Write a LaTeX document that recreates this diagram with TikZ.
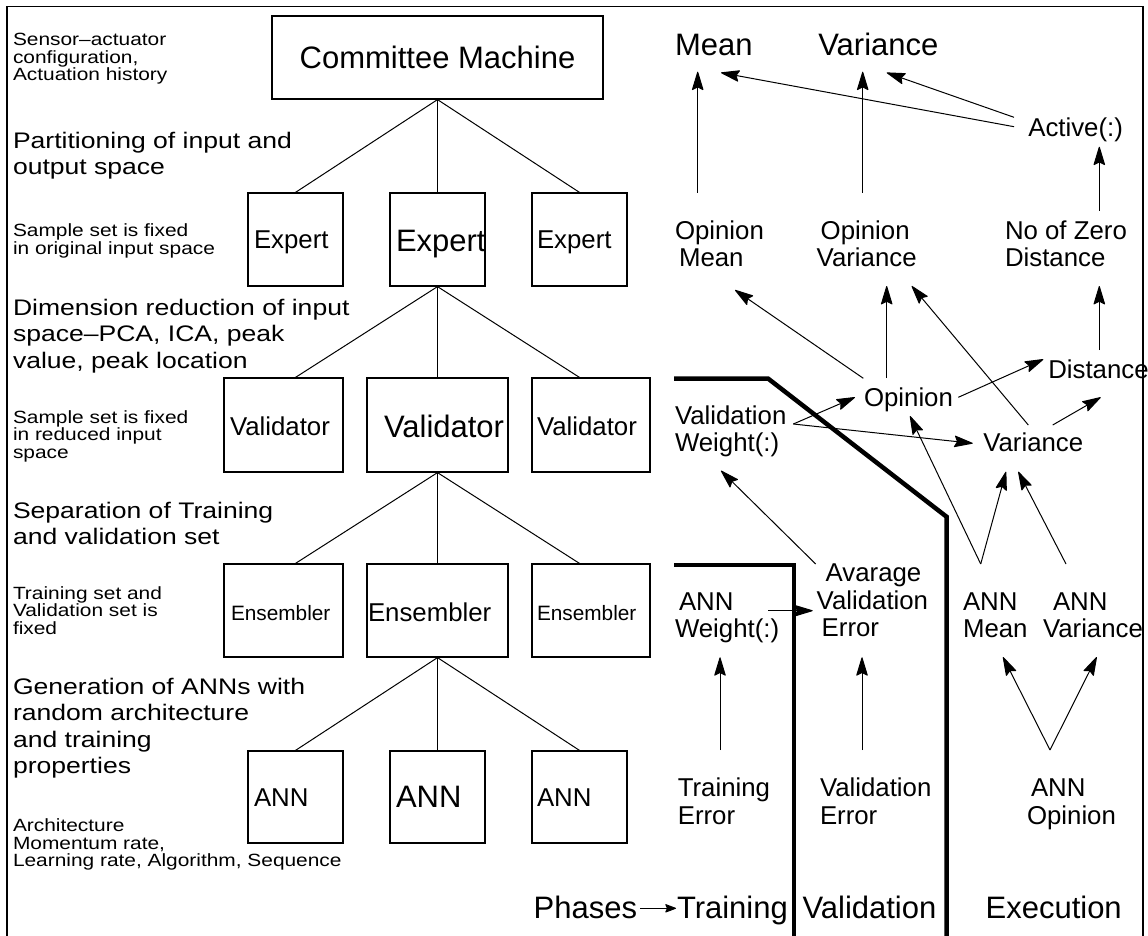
\documentclass[tikz,border=0pt]{standalone}
\usepackage{fontspec}
\setmainfont{Liberation Sans}
\newfontfamily\wideface{Liberation Sans}[FakeStretch=1.18]
\usetikzlibrary{arrows.meta}

% text sizes (1pt = one unit of the drawing)
\newcommand\bigtext{\fontsize{31}{31}\selectfont}
\newcommand\midtext{\fontsize{25.8}{27.5}\selectfont}
\newcommand\headtext{\wideface\fontsize{22.5}{26.5}\selectfont}
\newcommand\notetext{\wideface\fontsize{17.7}{17.6}\selectfont}
% left-aligned stack of lines, baseline on the first line
\newcommand\rows[1]{\vtop{\lineskiplimit=-50pt\halign{##\hfil\cr#1\crcr}}}

\begin{document}
\begin{tikzpicture}[x=1pt, y=-1pt, line join=miter,
  box/.style={draw, line width=1.2pt, inner sep=0pt},
  lbl/.style={anchor=base west, inner sep=0pt, outer sep=0pt},
  tree/.style={line width=1pt},
  arr/.style={line width=1pt, -{Stealth[length=20pt,width=12pt,inset=3pt,round]}},
  smallarr/.style={line width=1pt, -{Stealth[length=12pt,width=9pt,inset=2pt,round]}},
  phaseline/.style={line width=4.5pt}]
\useasboundingbox (0,0) rectangle (1148,935);

% outer frame
\draw[line width=1.2pt] (7,936) -- (7,6.5) -- (1143,6.5) -- (1143,936);

% ---------- hierarchy ----------
\node[box, minimum width=331pt, minimum height=83pt, font=\bigtext] (cm) at (437.5,57.5) {Committee Machine};

\node[box, minimum width=95pt, minimum height=93pt] (e1) at (295.5,239.5) {};
\node[box, minimum width=95pt, minimum height=93pt] (e2) at (437.5,239.5) {};
\node[box, minimum width=95pt, minimum height=93pt] (e3) at (579.5,239.5) {};

\node[box, minimum width=119pt, minimum height=94pt] (v1) at (283.5,425) {};
\node[box, minimum width=141pt, minimum height=94pt] (v2) at (437.5,425) {};
\node[box, minimum width=118pt, minimum height=94pt] (v3) at (591,425) {};

\node[box, minimum width=119pt, minimum height=93pt] (n1) at (283.5,610.5) {};
\node[box, minimum width=141pt, minimum height=93pt] (n2) at (437.5,610.5) {};
\node[box, minimum width=118pt, minimum height=93pt] (n3) at (591,610.5) {};

\node[box, minimum width=95pt, minimum height=92pt] (a1) at (295.5,797) {};
\node[box, minimum width=95pt, minimum height=92pt] (a2) at (437.5,797) {};
\node[box, minimum width=95pt, minimum height=92pt] (a3) at (579.5,797) {};

\node[lbl, font=\midtext] (e1t) at (254,248) {Expert};
\node[lbl, font=\bigtext] (e2t) at (396,251) {Expert};
\node[lbl, font=\midtext] (e3t) at (537,248) {Expert};
\node[lbl, font=\midtext] (v1t) at (230,435) {Validator};
\node[lbl, font=\bigtext] (v2t) at (384,437) {Validator};
\node[lbl, font=\midtext] (v3t) at (537,435) {Validator};
\node[lbl, font=\fontsize{20.8}{20.8}\selectfont] (n1t) at (231,620) {Ensembler};
\node[lbl, font=\midtext] (n2t) at (368,621) {Ensembler};
\node[lbl, font=\fontsize{20.8}{20.8}\selectfont] (n3t) at (537,620) {Ensembler};
\node[lbl, font=\midtext] (a1t) at (254,806) {ANN};
\node[lbl, font=\bigtext] (a2t) at (396,807) {ANN};
\node[lbl, font=\midtext] (a3t) at (537,806) {ANN};

\draw[tree] (cm.south) -- (e1.north);
\draw[tree] (cm.south) -- (e2.north);
\draw[tree] (cm.south) -- (e3.north);
\draw[tree] (e2.south) -- (v1.north -| e1.north);
\draw[tree] (e2.south) -- (v2.north);
\draw[tree] (e2.south) -- (v3.north -| e3.north);
\draw[tree] (v2.south) -- (n1.north -| e1.north);
\draw[tree] (v2.south) -- (n2.north);
\draw[tree] (v2.south) -- (n3.north -| e3.north);
\draw[tree] (n2.south) -- (a1.north);
\draw[tree] (n2.south) -- (a2.north);
\draw[tree] (n2.south) -- (a3.north);

% ---------- left-hand notes ----------
\node[lbl, font=\notetext] (s0) at (13,45.5) {\rows{Sensor–actuator\cr configuration,\cr Actuation history}};
\node[lbl, font=\headtext] (h1) at (13,148) {\rows{Partitioning of input and\cr output space}};
\node[lbl, font=\notetext] (s1) at (13,236.7) {\rows{Sample set is fixed\cr in original input space}};
\node[lbl, font=\headtext] (h2) at (13,315) {\rows{Dimension reduction of input\cr space–PCA, ICA, peak\cr value, peak location}};
\node[lbl, font=\notetext] (s2) at (13,423.3) {\rows{Sample set is fixed\cr in reduced input\cr space}};
\node[lbl, font=\headtext] (h3) at (13,518.3) {\rows{Separation of Training\cr and validation set}};
\node[lbl, font=\notetext] (s3) at (13,599.3) {\rows{Training set and\cr Validation set is\cr fixed}};
\node[lbl, font=\headtext] (h4) at (13,694.3) {\rows{Generation of ANNs with\cr random architecture\cr and training\cr properties}};
\node[lbl, font=\notetext] (s4) at (13,831.7) {\rows{Architecture\cr Momentum rate,\cr Learning rate, Algorithm, Sequence}};

% ---------- phase separators ----------
\draw[phaseline] (674,378.5) -- (768,378.5) -- (946.5,516.7) -- (946.5,937);
\draw[phaseline] (674,565) -- (794,565) -- (794,937);

% ---------- data flow ----------
\node[lbl, font=\bigtext] (mean) at (675,55) {Mean};
\node[lbl, font=\bigtext] (var) at (818.3,55) {Variance};
\node[lbl, font=\midtext] (act) at (1028.3,136.7) {Active(:)};
\node[lbl, font=\midtext] (om) at (675,239.3) {\rows{Opinion\cr\hskip4pt Mean}};
\node[lbl, font=\midtext] (ov) at (816.7,239.3) {\rows{\hskip4pt Opinion\cr Variance}};
\node[lbl, font=\midtext] (nz) at (1005,239.3) {\rows{No of Zero\cr Distance}};
\node[lbl, font=\midtext] (op) at (864,406.7) {Opinion};
\node[lbl, font=\midtext] (dist) at (1048.3,378.3) {Distance};
\node[lbl, font=\midtext] (vr) at (983.3,451.7) {Variance};
\node[lbl, font=\midtext] (vw) at (675,424) {\rows{Validation\cr Weight(:)}};
\node[lbl, font=\midtext] (avg) at (816.7,581.7) {\rows{\hskip9pt Avarage\cr Validation\cr\hskip5pt Error}};
\node[lbl, font=\midtext] (aw) at (675,610) {\rows{\hskip4pt ANN\cr Weight(:)}};
\node[lbl, font=\midtext] (amn) at (963,610) {\rows{ANN\cr Mean}};
\node[lbl, font=\midtext] (avr) at (1043,610) {\rows{\hskip10pt ANN\cr Variance}};
\node[lbl, font=\midtext] (te) at (677.8,796.7) {\rows{Training\cr Error}};
\node[lbl, font=\midtext] (ve) at (820,796.7) {\rows{Validation\cr Error}};
\node[lbl, font=\midtext] (ao) at (1027,796.7) {\rows{\hskip4pt ANN\cr Opinion}};

\node[lbl, font=\bigtext] (phases) at (533.7,918.3) {Phases};
\node[lbl, font=\bigtext] (ttrain) at (677,918.3) {Training};
\node[lbl, font=\bigtext] (tval) at (802.5,918.3) {Validation};
\node[lbl, font=\bigtext] (texec) at (985.6,918.3) {Execution};

\draw[arr] ([shift={(22.7,-46.6)}]om.base west) -- ([shift={(22.7,16.7)}]mean.base west);
\draw[arr] ([shift={(46,-46.6)}]ov.base west) -- ([shift={(44.4,16.7)}]var.base west);
\draw[arr] ([shift={(-14.3,-10)}]act.base west) -- ([shift={(46,17.7)}]mean.base west);
\draw[arr] ([shift={(-14.3,-19.4)}]act.base west) -- ([shift={(68.4,17.7)}]var.base west);
\draw[arr] ([shift={(94.3,-28.6)}]nz.base west) -- ([shift={(71,10)}]act.base west);

\draw[arr] ([shift={(-0.7,-28.4)}]op.base west) -- ([shift={(60,50.7)}]om.base west);
\draw[arr] ([shift={(22.7,-28.7)}]op.base west) -- ([shift={(70,46.7)}]ov.base west);
\draw[arr] ([shift={(45,-26.7)}]vr.base west) -- ([shift={(95,46.7)}]ov.base west);
\draw[arr] ([shift={(51,-28.3)}]dist.base west) -- ([shift={(94.3,46.7)}]nz.base west);
\draw[arr] ([shift={(94.3,-9.4)}]op.base west) -- ([shift={(-5,-19)}]dist.base west);
\draw[arr] ([shift={(69.4,-26.7)}]vr.base west) -- ([shift={(52.4,19)}]dist.base west);

\draw[arr] ([shift={(118.3,0)}]vw.base west) -- ([shift={(-9,-9.4)}]op.base west);
\draw[arr] ([shift={(118.3,0)}]vw.base west) -- ([shift={(-10.6,-8.4)}]vr.base west);
\draw[arr] ([shift={(17.7,-46)}]amn.base west) -- ([shift={(46,9.3)}]op.base west);
\draw[arr] ([shift={(17.7,-46)}]amn.base west) -- ([shift={(22.7,20)}]vr.base west);
\draw[arr] ([shift={(23,-46)}]avr.base west) -- ([shift={(35,20)}]vr.base west);
\draw[arr] ([shift={(-1,-17.7)}]avg.base west) -- ([shift={(46,46.7)}]vw.base west);
\draw[arr] ([shift={(93.3,0.7)}]aw.base west) -- ([shift={(-4,29)}]avg.base west);

\draw[arr] ([shift={(42.2,-46.7)}]te.base west) -- ([shift={(45,47.3)}]aw.base west);
\draw[arr] ([shift={(42,-46.7)}]ve.base west) -- ([shift={(45.3,75.6)}]avg.base west);
\draw[arr] ([shift={(23,-46.7)}]ao.base west) -- ([shift={(40,47)}]amn.base west);
\draw[arr] ([shift={(23,-46.7)}]ao.base west) -- ([shift={(53.7,47)}]avr.base west);

\draw[smallarr] ([shift={(106.3,-10)}]phases.base west) -- ([shift={(-1,-10)}]ttrain.base west);
\end{tikzpicture}
\end{document}
